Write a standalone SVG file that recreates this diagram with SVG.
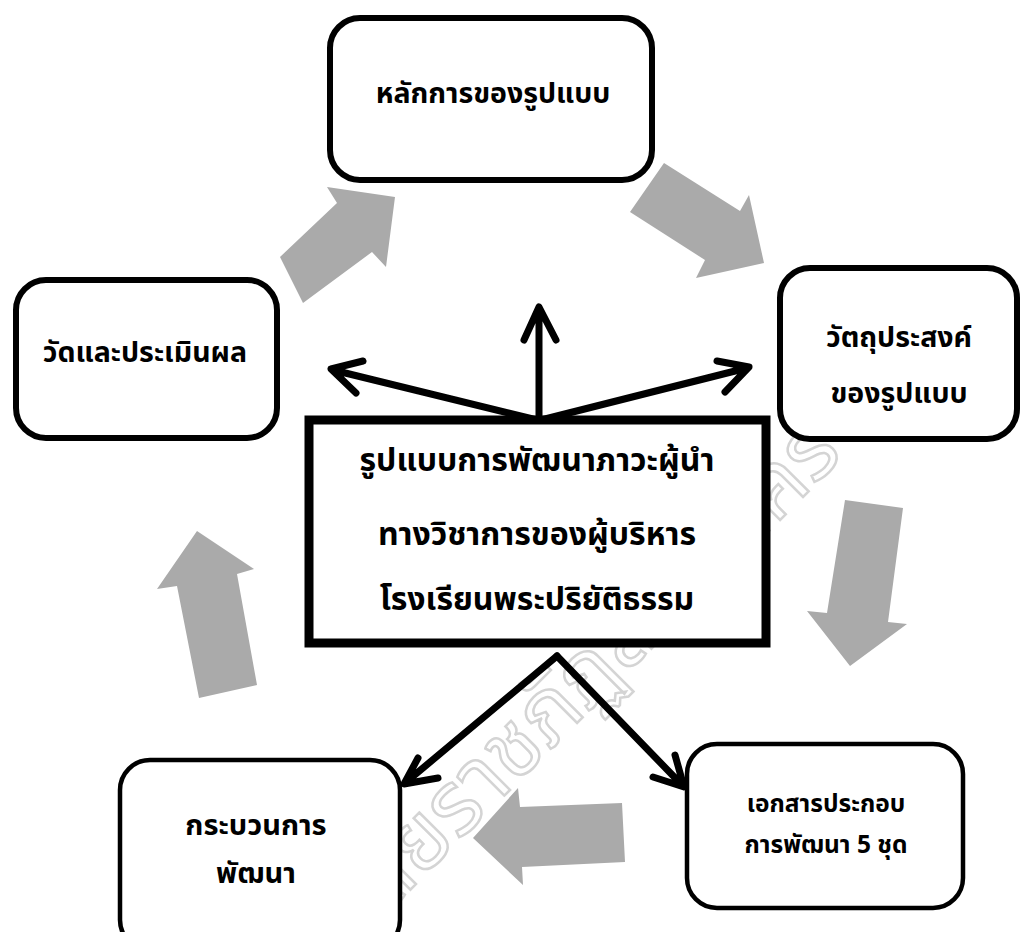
<svg xmlns="http://www.w3.org/2000/svg" width="1023" height="932" viewBox="0 0 1023 932">
<style>
.box{fill:#fff;stroke:#000;stroke-width:6}
.box2{fill:#fff;stroke:#000;stroke-width:4.5}
.t{font-family:'Noto Sans Thai','Noto Sans','DejaVu Sans',sans-serif;font-weight:bold;fill:#000;text-anchor:middle}
.g{fill:#aaaaaa}
.ln{fill:none;stroke:#000;stroke-width:7;stroke-linecap:round;stroke-linejoin:round}
.wm{font-family:'Noto Sans Thai','Noto Sans',sans-serif;font-size:88px;fill:none;stroke:#d4d4d4;stroke-width:2.5}
</style>
<rect width="1023" height="932" fill="#fff"/>
<g id="flow-arrows">
<polygon class="g" points="280,257 337,203 327,187 395,197 386,267 372,252 303,303"/>
<polygon class="g" points="664,163 740,211 749,195 764,263 696,278 705,260 630,212"/>
<polygon class="g" points="845,500 903,508 888,622 907,624 850,666 807,611 827,613"/>
<polygon class="g" points="622,803 520,807 518,788 473,838 523,885 522,867 625,862"/>
<polygon class="g" points="197,531 254,569 237,574 257,685 199,698 177,586 157,589"/>
</g>
<text class="wm" transform="translate(385,915) rotate(-45)" textLength="650" lengthAdjust="spacingAndGlyphs">ลัยราชภัฏสกลนคร</text>
<g id="node-principles">
<rect class="box" x="330" y="18" width="322" height="162" rx="30"/>
<text class="t" x="493" y="103" font-size="28.5">หลักการของรูปแบบ</text>
</g>
<g id="node-evaluation">
<rect class="box" x="16" y="280" width="261" height="158" rx="30"/>
<text class="t" x="145" y="362" font-size="28.5">วัดและประเมินผล</text>
</g>
<g id="node-objectives">
<rect class="box" x="780" y="268" width="237" height="171" rx="30"/>
<text class="t" x="899" y="347" font-size="28.5">วัตถุประสงค์</text>
<text class="t" x="899" y="403" font-size="28.5">ของรูปแบบ</text>
</g>
<g id="node-center">
<rect x="309" y="420" width="457" height="223" fill="#fff" stroke="#000" stroke-width="9"/>
<text class="t" x="537" y="471" font-size="32">รูปแบบการพัฒนาภาวะผู้นำ</text>
<text class="t" x="537" y="545" font-size="32">ทางวิชาการของผู้บริหาร</text>
<text class="t" x="537" y="610" font-size="32">โรงเรียนพระปริยัติธรรม</text>
</g>
<g id="node-process">
<rect class="box2" x="120" y="760" width="280" height="190" rx="30"/>
<text class="t" x="256" y="835" font-size="29">กระบวนการ</text>
<text class="t" x="256" y="883" font-size="29">พัฒนา</text>
</g>
<g id="node-documents">
<rect class="box2" x="687" y="744" width="276" height="164" rx="30"/>
<text class="t" x="826" y="812" font-size="24.5">เอกสารประกอบ</text>
<text class="t" x="826" y="853" font-size="24.5">การพัฒนา 5 ชุด</text>
</g>
<g id="connectors">
<path class="ln" d="M539,420 L539,308 M524,340 L539,307 L556,340"/>
<path class="ln" d="M537,420 L333,370 M363,361 L331,369 L356,393"/>
<path class="ln" d="M541,420 L747,368 M717,361 L749,367 L725,392"/>
<path class="ln" d="M557,656 L405,783 M418,758 L404,784 L438,778"/>
<path class="ln" d="M557,656 L683,786 M675,755 L684,787 L653,777"/>
</g>
</svg>
